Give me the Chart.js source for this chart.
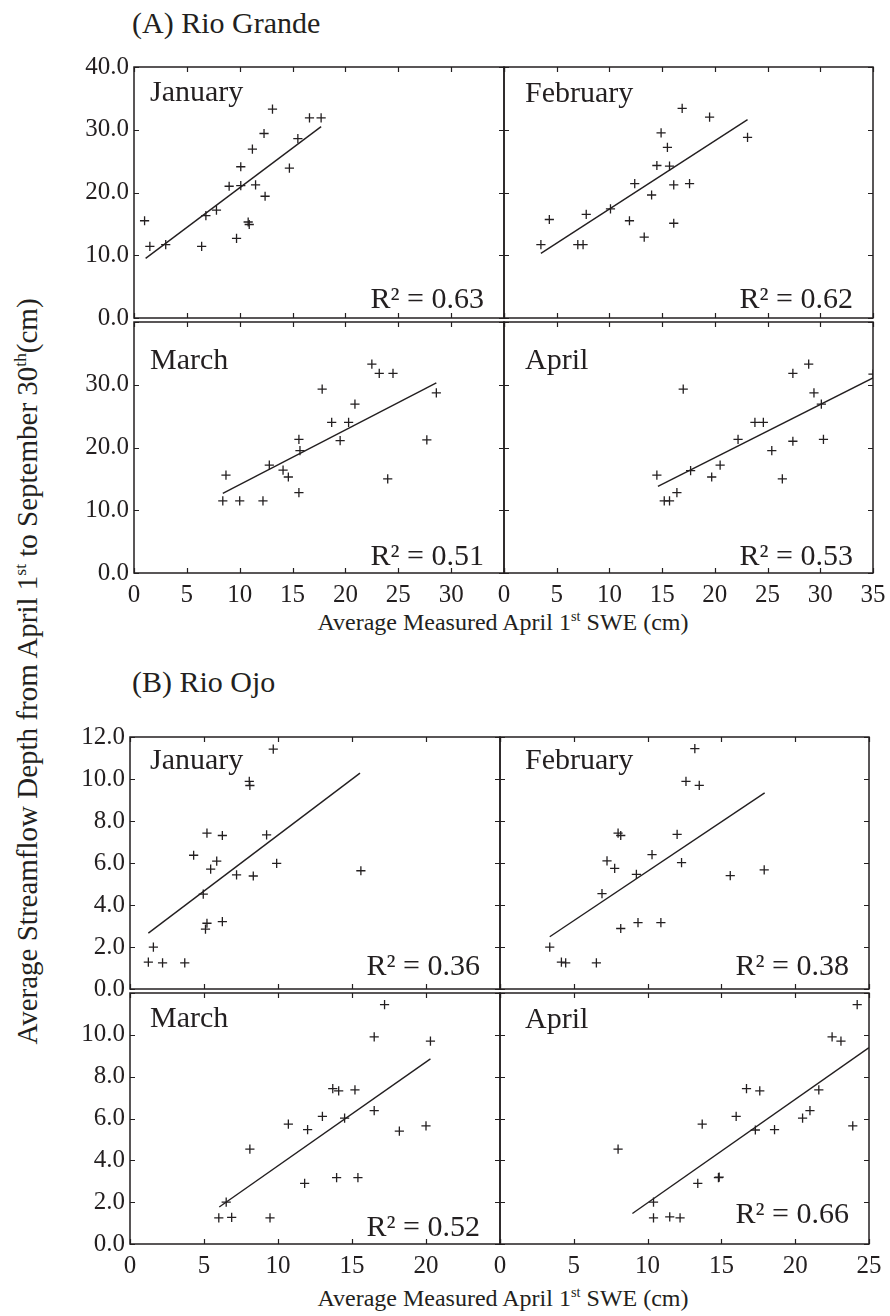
<!DOCTYPE html>
<html><head><meta charset="utf-8">
<script src="https://cdn.jsdelivr.net/npm/chart.js@4.4.1/dist/chart.umd.min.js"></script>
<style>
html,body{margin:0;padding:0;background:#fff;}
body{width:890px;height:1316px;position:relative;overflow:hidden;font-family:"Liberation Serif","Times New Roman",serif;color:#231f20;}
canvas{position:absolute;}
.t{position:absolute;white-space:nowrap;line-height:1;}
sup{font-size:0.6em;vertical-align:0.62em;line-height:0;}
</style></head><body>
<div class="t" style="left:132px;top:8px;font-size:30px;">(A) Rio Grande</div>
<div class="t" style="left:132px;top:667px;font-size:30px;">(B) Rio Ojo</div>
<div class="t" style="left:203px;top:610px;width:600px;text-align:center;font-size:24px;">Average Measured April 1<sup>st</sup> SWE (cm)</div>
<div class="t" style="left:203px;top:1286px;width:600px;text-align:center;font-size:24px;">Average Measured April 1<sup>st</sup> SWE (cm)</div>
<div class="t" style="left:-423px;top:657px;width:900px;height:29px;line-height:29px;text-align:center;font-size:29px;transform:rotate(-90deg);transform-origin:450px 14.5px;">Average Streamflow Depth from April 1<sup>st</sup> to September 30<sup>th</sup>(cm)</div>
<script>
// ---------- data ----------
const monthNames = ['January', 'February', 'March', 'April'];
const r2A = ['0.63', '0.62', '0.51', '0.53'];
const r2B = ['0.36', '0.38', '0.52', '0.66'];

const xTicksA = [0, 5, 10, 15, 20, 25, 30, 35];
const yTicksA = [0, 10, 20, 30, 40];
const xTicksB = [0, 5, 10, 15, 20, 25];
const yTicksB = [0, 2, 4, 6, 8, 10, 12];

// (A) Rio Grande
const rgJanX = [1.0, 1.5, 3.0, 6.4, 6.8, 7.8, 9.0, 9.7, 10.1, 10.1, 10.8, 10.9, 11.2, 11.5, 12.3, 12.4, 13.1, 14.7, 15.5, 16.6, 17.7];
const rgJanY = [15.5, 11.4, 11.7, 11.4, 16.3, 17.2, 21.0, 12.7, 24.1, 21.1, 15.3, 14.9, 26.9, 21.2, 29.4, 19.4, 33.3, 23.9, 28.6, 31.9, 31.9];
const rgFebX = [3.5, 4.3, 7.0, 7.5, 7.8, 10.1, 11.9, 12.4, 13.3, 14.0, 14.5, 14.9, 15.5, 15.7, 16.1, 16.1, 16.9, 17.6, 19.5, 23.1];
const rgFebY = [11.7, 15.7, 11.7, 11.7, 16.5, 17.4, 15.5, 21.4, 12.9, 19.6, 24.3, 29.5, 27.2, 24.2, 15.1, 21.2, 33.4, 21.4, 32.0, 28.8];
const rgMarX = [8.4, 8.7, 10.0, 12.2, 12.8, 14.1, 14.6, 15.6, 15.6, 15.7, 17.8, 18.7, 19.5, 20.3, 20.9, 22.5, 23.2, 24.5, 24.0, 27.7, 28.6];
const rgMarY = [11.5, 15.6, 11.5, 11.5, 17.2, 16.4, 15.3, 12.8, 21.3, 19.5, 29.3, 24.0, 21.1, 24.0, 26.9, 33.3, 31.8, 31.8, 15.0, 21.2, 28.7];
const rgAprX = [14.5, 15.2, 15.7, 16.4, 17.0, 17.7, 19.7, 20.5, 22.2, 23.8, 24.6, 25.4, 26.4, 27.4, 27.4, 28.9, 29.4, 30.1, 30.3, 35.0];
const rgAprY = [15.6, 11.5, 11.5, 12.8, 29.3, 16.3, 15.3, 17.2, 21.3, 24.0, 24.0, 19.5, 15.0, 31.8, 21.0, 33.3, 28.7, 26.9, 21.3, 31.7];
const rgJanFitX = [1.1, 17.7],  rgJanFitY = [9.5, 30.5];
const rgFebFitX = [3.5, 23.1],  rgFebFitY = [10.3, 31.6];
const rgMarFitX = [8.4, 28.6],  rgMarFitY = [12.7, 30.3];
const rgAprFitX = [14.6, 35.0], rgAprFitY = [13.8, 31.1];

// (B) Rio Ojo
const roJanX = [1.24, 1.58, 2.2, 3.7, 4.3, 4.95, 5.2, 5.2, 5.1, 5.45, 5.86, 6.24, 6.24, 7.2, 8.06, 8.1, 8.33, 9.23, 9.68, 9.91, 15.6];
const roJanY = [1.28, 1.99, 1.24, 1.24, 6.37, 4.52, 7.42, 3.13, 2.85, 5.71, 6.09, 7.31, 3.21, 5.43, 9.89, 9.69, 5.38, 7.34, 11.42, 5.98, 5.63];
const roFebX = [3.37, 4.16, 4.45, 6.53, 6.91, 7.25, 7.77, 8.0, 8.18, 8.18, 9.24, 9.35, 10.3, 10.9, 12.0, 12.3, 12.6, 13.2, 13.5, 15.6, 17.9];
const roFebY = [1.99, 1.28, 1.24, 1.24, 4.54, 6.1, 5.74, 7.42, 7.31, 2.88, 5.46, 3.16, 6.4, 3.16, 7.36, 6.02, 9.89, 11.45, 9.7, 5.4, 5.67];
const roMarX = [6.0, 6.87, 6.5, 8.1, 9.46, 10.7, 11.8, 12.0, 13.0, 13.7, 14.1, 13.96, 14.5, 15.2, 15.4, 16.5, 16.5, 17.2, 18.2, 20.0, 20.3];
const roMarY = [1.25, 1.27, 2.0, 4.54, 1.25, 5.73, 2.9, 5.47, 6.1, 7.43, 7.32, 3.17, 6.02, 7.37, 3.17, 9.9, 6.38, 11.44, 5.4, 5.65, 9.7];
const roAprX = [8.0, 10.4, 10.4, 11.5, 12.2, 13.4, 13.7, 14.8, 14.85, 16.0, 16.7, 17.3, 17.6, 18.6, 20.5, 21.0, 21.6, 22.5, 23.1, 23.9, 24.2];
const roAprY = [4.54, 2.0, 1.25, 1.3, 1.25, 2.9, 5.73, 3.17, 3.2, 6.1, 7.43, 5.45, 7.32, 5.47, 6.02, 6.38, 7.37, 9.9, 9.7, 5.65, 11.44];
const roJanFitX = [1.24, 15.54], roJanFitY = [2.66, 10.28];
const roFebFitX = [3.37, 17.93], roFebFitY = [2.49, 9.34];
const roMarFitX = [6.03, 20.3],  roMarFitY = [1.77, 8.85];
const roAprFitX = [8.97, 25.0],  roAprFitY = [1.46, 9.39];

// ---------- layout ----------
const INK = '#231f20';
const FONT = '"Liberation Serif", "Times New Roman", serif';
const ML = 80, MT = 16, MR = 26, MB = 44, TL = 5;
const groups = {
  A: { cols: [134, 504, 873], rows: [63, 318, 573], xMax: 35, yMax: 40, xt: xTicksA, yt: yTicksA, dec: 1, r2: r2A },
  B: { cols: [130, 500, 869], rows: [733, 989, 1244], xMax: 25, yMax: 12, xt: xTicksB, yt: yTicksB, dec: 1, r2: r2B }
};
const panels = [
  { g: 'A', c: 0, r: 0, m: 0, x: rgJanX, y: rgJanY, fx: rgJanFitX, fy: rgJanFitY, md: 34, rd: 10 },
  { g: 'A', c: 1, r: 0, m: 1, x: rgFebX, y: rgFebY, fx: rgFebFitX, fy: rgFebFitY, md: 35, rd: 10 },
  { g: 'A', c: 0, r: 1, m: 2, x: rgMarX, y: rgMarY, fx: rgMarFitX, fy: rgMarFitY, md: 47, rd: 8 },
  { g: 'A', c: 1, r: 1, m: 3, x: rgAprX, y: rgAprY, fx: rgAprFitX, fy: rgAprFitY, md: 47, rd: 8 },
  { g: 'B', c: 0, r: 0, m: 0, x: roJanX, y: roJanY, fx: roJanFitX, fy: roJanFitY, md: 32, rd: 14 },
  { g: 'B', c: 1, r: 0, m: 1, x: roFebX, y: roFebY, fx: roFebFitX, fy: roFebFitY, md: 32, rd: 14 },
  { g: 'B', c: 0, r: 1, m: 2, x: roMarX, y: roMarY, fx: roMarFitX, fy: roMarFitY, md: 34, rd: 8 },
  { g: 'B', c: 1, r: 1, m: 3, x: roAprX, y: roAprY, fx: roAprFitX, fy: roAprFitY, md: 35, rd: 21 }
];
const monthPageX = [150, 525];

const framePlugin = {
  id: 'frame',
  afterDatasetsDraw(chart, args, o) {
    const { ctx, chartArea: a, scales: { x, y } } = chart;
    ctx.save();
    ctx.strokeStyle = INK;
    ctx.lineWidth = 1.5;
    ctx.strokeRect(a.left, a.top, a.right - a.left, a.bottom - a.top);
    ctx.lineWidth = 1.2;
    ctx.beginPath();
    x.ticks.forEach(t => {
      const p = Math.round(x.getPixelForValue(t.value)) + 0.5;
      ctx.moveTo(p, a.bottom); ctx.lineTo(p, a.bottom - TL);
      ctx.moveTo(p, a.top); ctx.lineTo(p, a.top + TL);
    });
    y.ticks.forEach(t => {
      const p = Math.round(y.getPixelForValue(t.value)) + 0.5;
      ctx.moveTo(a.left, p); ctx.lineTo(a.left + TL, p);
      ctx.moveTo(a.right, p); ctx.lineTo(a.right - TL, p);
    });
    ctx.stroke();
    ctx.fillStyle = INK;
    ctx.font = '30px ' + FONT;
    ctx.textBaseline = 'alphabetic';
    ctx.textAlign = 'left';
    ctx.fillText(o.month, o.monthX, a.top + o.md);
    ctx.textAlign = 'right';
    ctx.fillText('R\u00B2 = ' + o.r2, a.right - 20, a.bottom - o.rd);
    ctx.restore();
  }
};

panels.forEach(p => {
  const G = groups[p.g];
  const L = G.cols[p.c], R = G.cols[p.c + 1], T = G.rows[p.r], B = G.rows[p.r + 1];
  const cv = document.createElement('canvas');
  const w = R - L + ML + MR, h = B - T + MT + MB;
  cv.width = w; cv.height = h;
  cv.style.left = (L - ML) + 'px'; cv.style.top = (T - MT) + 'px';
  cv.style.width = w + 'px'; cv.style.height = h + 'px';
  document.body.appendChild(cv);
  const showX = p.r === 1, showY = p.c === 0;
  const hideX = p.c === 0 ? G.xMax : null;   // shared corner labels
  const hideY = p.r === 1 ? G.yMax : null;
  new Chart(cv, {
    data: {
      datasets: [
        { type: 'scatter', data: p.x.map((v, i) => ({ x: v, y: p.y[i] })), pointStyle: 'cross', pointRadius: 4.6, pointBorderWidth: 1.3, borderColor: INK, backgroundColor: INK },
        { type: 'line', data: p.fx.map((v, i) => ({ x: v, y: p.fy[i] })), borderColor: INK, borderWidth: 1.4, pointRadius: 0, fill: false, tension: 0 }
      ]
    },
    options: {
      responsive: false, animation: false, devicePixelRatio: 1,
      layout: { padding: { top: MT, right: MR, left: 0, bottom: 0 } },
      plugins: { legend: { display: false }, tooltip: { enabled: false },
        frame: { month: monthNames[p.m], r2: G.r2[p.m], monthX: monthPageX[p.c] - (L - ML), md: p.md, rd: p.rd } },
      scales: {
        x: {
          type: 'linear', min: 0, max: G.xMax,
          afterBuildTicks: s => { s.ticks = G.xt.map(v => ({ value: v })); },
          afterFit: s => { s.height = MB; },
          grid: { display: false, drawTicks: false }, border: { display: false },
          ticks: { autoSkip: false, maxRotation: 0, padding: 7, color: INK, font: { family: FONT, size: 25 },
            callback: v => (showX && v !== hideX) ? String(v) : '' }
        },
        y: {
          type: 'linear', min: 0, max: G.yMax,
          afterBuildTicks: s => { s.ticks = G.yt.map(v => ({ value: v })); },
          afterFit: s => { s.width = ML; },
          grid: { display: false, drawTicks: false }, border: { display: false },
          ticks: { autoSkip: false, padding: 5, color: INK, font: { family: FONT, size: 25 },
            callback: v => (showY && v !== hideY) ? v.toFixed(G.dec) : '' }
        }
      }
    },
    plugins: [framePlugin]
  });
});
</script>
</body></html>
